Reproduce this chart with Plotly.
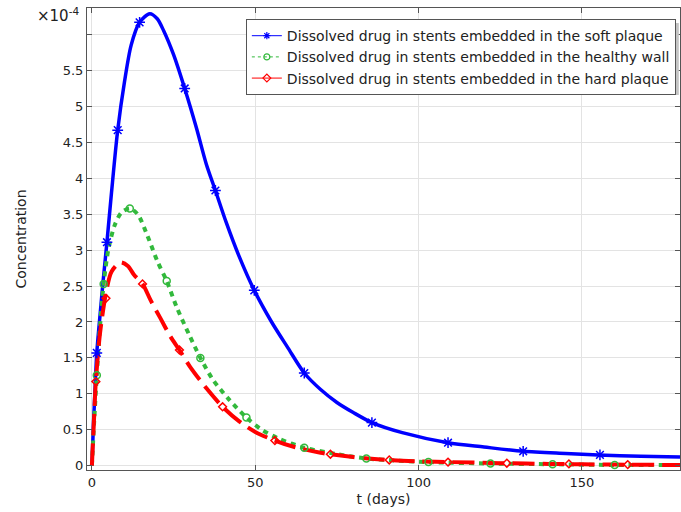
import plotly.graph_objects as go

# Concentration values in units of 1e-4
t_soft = [0, 0.5, 1, 1.5, 2.5, 3.5, 4.6, 6, 7.9, 10, 12, 14.6, 17.7, 20, 22, 25, 28.4, 32, 35, 37.8, 41, 45, 49.7,
          55, 60, 65, 70, 75, 80, 85.7, 95, 109, 120, 132, 145, 155, 168, 180]
c_soft = [0, 0.6, 1.1, 1.57, 2.1, 2.6, 3.11, 3.8, 4.67, 5.35, 5.85, 6.17, 6.29, 6.22, 6.05, 5.72, 5.25, 4.7, 4.2,
          3.83, 3.4, 2.92, 2.44, 2.0, 1.64, 1.29, 1.06, 0.88, 0.74, 0.6, 0.46, 0.32, 0.26, 0.2, 0.17, 0.15, 0.13, 0.12]
tm_soft = [1.5, 4.6, 7.9, 14.6, 28.4, 37.8, 49.7, 65, 85.7, 109, 132, 155.5]
cm_soft = [1.57, 3.11, 4.67, 6.17, 5.25, 3.83, 2.44, 1.29, 0.6, 0.32, 0.2, 0.15]

t_healthy = [0, 0.7, 1.5, 2.5, 3.6, 5, 7, 9, 11.6, 14, 17, 20, 22.9, 26, 30, 33.2, 37, 42, 47.3, 52, 57, 65, 75,
             84, 94, 103, 122, 141, 160, 180]
c_healthy = [0, 0.62, 1.26, 1.95, 2.53, 3.0, 3.35, 3.52, 3.58, 3.5, 3.2, 2.85, 2.57, 2.2, 1.8, 1.5, 1.2, 0.92, 0.67,
             0.5, 0.38, 0.25, 0.16, 0.1, 0.07, 0.05, 0.03, 0.02, 0.01, 0.01]
tm_healthy = [1.5, 3.6, 11.6, 22.9, 33.2, 47.3, 65, 84, 103, 122, 141, 160]
cm_healthy = [1.26, 2.53, 3.58, 2.57, 1.5, 0.67, 0.25, 0.1, 0.05, 0.03, 0.02, 0.01]

t_hard = [0, 0.6, 1.2, 2.5, 4.3, 6, 8.8, 11, 13, 15.5, 18, 21, 24, 26.8, 30, 35, 40, 45, 50, 56, 62, 70, 80, 90,
          100, 110, 125, 140, 160, 180]
c_hard = [0, 0.6, 1.17, 1.85, 2.4, 2.7, 2.83, 2.78, 2.65, 2.53, 2.3, 2.05, 1.8, 1.61, 1.38, 1.08, 0.82, 0.62,
          0.47, 0.35, 0.26, 0.18, 0.12, 0.08, 0.06, 0.05, 0.035, 0.025, 0.015, 0.01]
tm_hard = [1.2, 4.3, 15.5, 26.8, 40, 56, 73, 91, 109, 127, 146, 164]
cm_hard = [1.17, 2.33, 2.53, 1.61, 0.82, 0.35, 0.16, 0.08, 0.05, 0.035, 0.025, 0.015]

y_ticks = [0, 0.5, 1, 1.5, 2, 2.5, 3, 3.5, 4, 4.5, 5, 5.5, 6]
y_labels = ["0", "0.5", "1", "1.5", "2", "2.5", "3", "3.5", "4", "4.5", "5", "5.5", " "]
x_ticks = [0, 50, 100, 150]

names = ["Dissolved drug in stents embedded in the soft plaque",
         "Dissolved drug in stents embedded in the healthy wall",
         "Dissolved drug in stents embedded in the hard plaque"]

BLUE = "rgb(0,0,255)"
GREEN = "rgb(50,185,60)"
RED = "rgb(255,0,0)"

fig = go.Figure()
series = [
    (t_soft, c_soft, tm_soft, cm_soft, BLUE, "solid", 3.5, "asterisk-open", 9, names[0]),
    (t_healthy, c_healthy, tm_healthy, cm_healthy, GREEN, "5px,5px", 4, "circle-open", 7, names[1]),
    (t_hard, c_hard, tm_hard, cm_hard, RED, "22px,8px", 4, "diamond-open", 6, names[2]),
]
for i, (t, c, tm, cm, col, dash, w, sym, ms, nm) in enumerate(series):
    fig.add_trace(go.Scatter(x=t, y=c, mode="lines", line=dict(color=col, width=w, dash=dash, shape="spline",
                                                                smoothing=0.8),
                             showlegend=False, hoverinfo="skip"))
for i, (t, c, tm, cm, col, dash, w, sym, ms, nm) in enumerate(series):
    fig.add_trace(go.Scatter(x=tm, y=cm, mode="markers",
                             marker=dict(symbol=sym, size=ms, color=col, line=dict(width=1.5, color=col)),
                             showlegend=False))
    # legend entries
    fig.add_trace(go.Scatter(x=[None], y=[None], mode="lines+markers", name=nm,
                             line=dict(color=col, width=1, dash="solid" if i != 1 else "dot"),
                             marker=dict(symbol=sym, size=6, color=col, line=dict(width=1.2, color=col))))

axis_common = dict(showline=True, linecolor="#555", linewidth=1, mirror="ticks", ticks="inside",
                   ticklen=5, tickcolor="#555", gridcolor="#e3e3e3", gridwidth=1, zeroline=False,
                   automargin=False,
                   tickfont=dict(family="DejaVu Sans", size=13, color="#222"))

fig.update_xaxes(range=[-1.5, 180], tickvals=x_ticks, title=dict(text="t (days)", standoff=5,
                 font=dict(family="DejaVu Sans", size=14, color="#222")), **axis_common)
fig.update_yaxes(range=[-0.06, 6.37], tickvals=y_ticks, ticktext=y_labels,
                 title=dict(text="Concentration", standoff=32, font=dict(family="DejaVu Sans", size=14, color="#222")),
                 **axis_common)

fig.add_annotation(text="\u00d710<sup>-4</sup>", xref="paper", yref="paper", x=-0.01, y=0.985,
                   xanchor="right", yanchor="middle", showarrow=False,
                   font=dict(family="DejaVu Sans", size=15, color="#222"))

# legend drop shadow
fig.add_shape(type="rect", xref="paper", yref="paper", x0=0.275, x1=0.998, y0=0.8117, y1=0.9675,
              fillcolor="#c4c4c4", line=dict(width=0), layer="above")

fig.update_layout(
    width=681, height=512,
    margin=dict(l=87, r=1, t=8, b=42, autoexpand=False),
    plot_bgcolor="white", paper_bgcolor="white",
    font=dict(family="DejaVu Sans", size=13, color="#222"),
    legend=dict(x=0.993, y=0.976, xanchor="right", yanchor="top", bgcolor="white",
                bordercolor="#555", borderwidth=1, font=dict(family="DejaVu Sans", size=14, color="#222"),
                tracegroupgap=0, itemwidth=30),
)

fig.write_html("out.html", post_script="document.body.style.margin='0';",
               config={"displayModeBar": False})
